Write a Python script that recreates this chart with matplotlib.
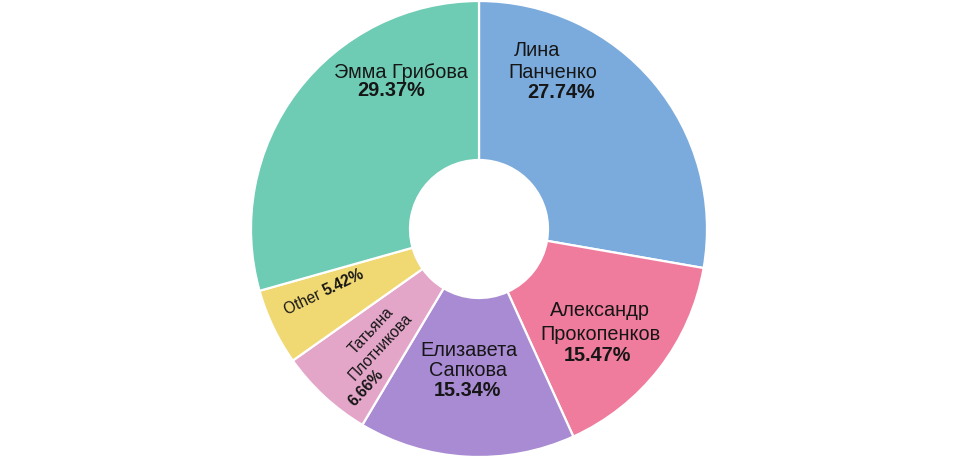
import matplotlib.pyplot as plt

# slice data (clockwise from 12 o'clock)
names = ["Лина Панченко", "Александр Прокопенков", "Елизавета Сапкова",
         "Татьяна Плотникова", "Other", "Эмма Грибова"]
shares = [27.74, 15.47, 15.34, 6.66, 5.42, 29.37]
colors = ["#7babdc", "#ef7b9d", "#a98bd3", "#e3a6c9", "#f0d872", "#6ecbb4"]

plt.rcParams['font.family'] = ['Liberation Sans', 'DejaVu Sans']

W, H = 957, 457
fig = plt.figure(figsize=(W / 100, H / 100), dpi=100)
# centre of donut at (479, 229) px, outer radius 228 px
cx, cy, R = 479, 229, 228
ax = fig.add_axes([(cx - R) / W, (H - cy - R) / H, 2 * R / W, 2 * R / H])
ax.pie(shares, colors=colors, startangle=90, counterclock=False, radius=1,
       wedgeprops=dict(width=1 - 69 / 228, edgecolor="white", linewidth=1.6))
ax.set_xlim(-1, 1)
ax.set_ylim(-1, 1)
ax.set_axis_off()


def px(x, y):
    return (x - cx) / R, (cy - y) / R


fs = 14.3
tc = "#161616"
# plain horizontal labels, one text per line
lines = [
    ("Эмма Грибова", 401, 73, False), ("29.37%", 391, 91, True),
    ("Лина", 537, 50, False), ("Панченко", 553, 72, False), ("27.74%", 561, 92, True),
    ("Александр", 600, 311, False), ("Прокопенков", 600, 334, False), ("15.47%", 597, 356, True),
    ("Елизавета", 469, 350, False), ("Сапкова", 468, 370, False), ("15.34%", 467, 390, True),
]
for txt, x, y, bold in lines:
    ax.text(*px(x, y), txt, ha="center", va="center", fontsize=fs,
            fontweight="bold" if bold else "normal", color=tc)

# rotated labels in the thin slices
fss = 11.2
rot_t = 47
for txt, x, y, bold in [("Татьяна", 351, 352, False), ("Плотникова", 351, 378, False),
                        ("6.66%", 351, 404, True)]:
    ax.text(*px(x, y), txt, ha="left", va="center", fontsize=fss, rotation=rot_t,
            rotation_mode="anchor", fontweight="bold" if bold else "normal", color=tc)

rot_o = 25.5
ax.text(*px(324, 292), "Other ", ha="right", va="center", fontsize=fss, rotation=rot_o,
        rotation_mode="anchor", color=tc)
ax.text(*px(324, 292), "5.42%", ha="left", va="center", fontsize=fss, rotation=rot_o,
        rotation_mode="anchor", fontweight="bold", color=tc)

fig.savefig("out.png", dpi=100)
